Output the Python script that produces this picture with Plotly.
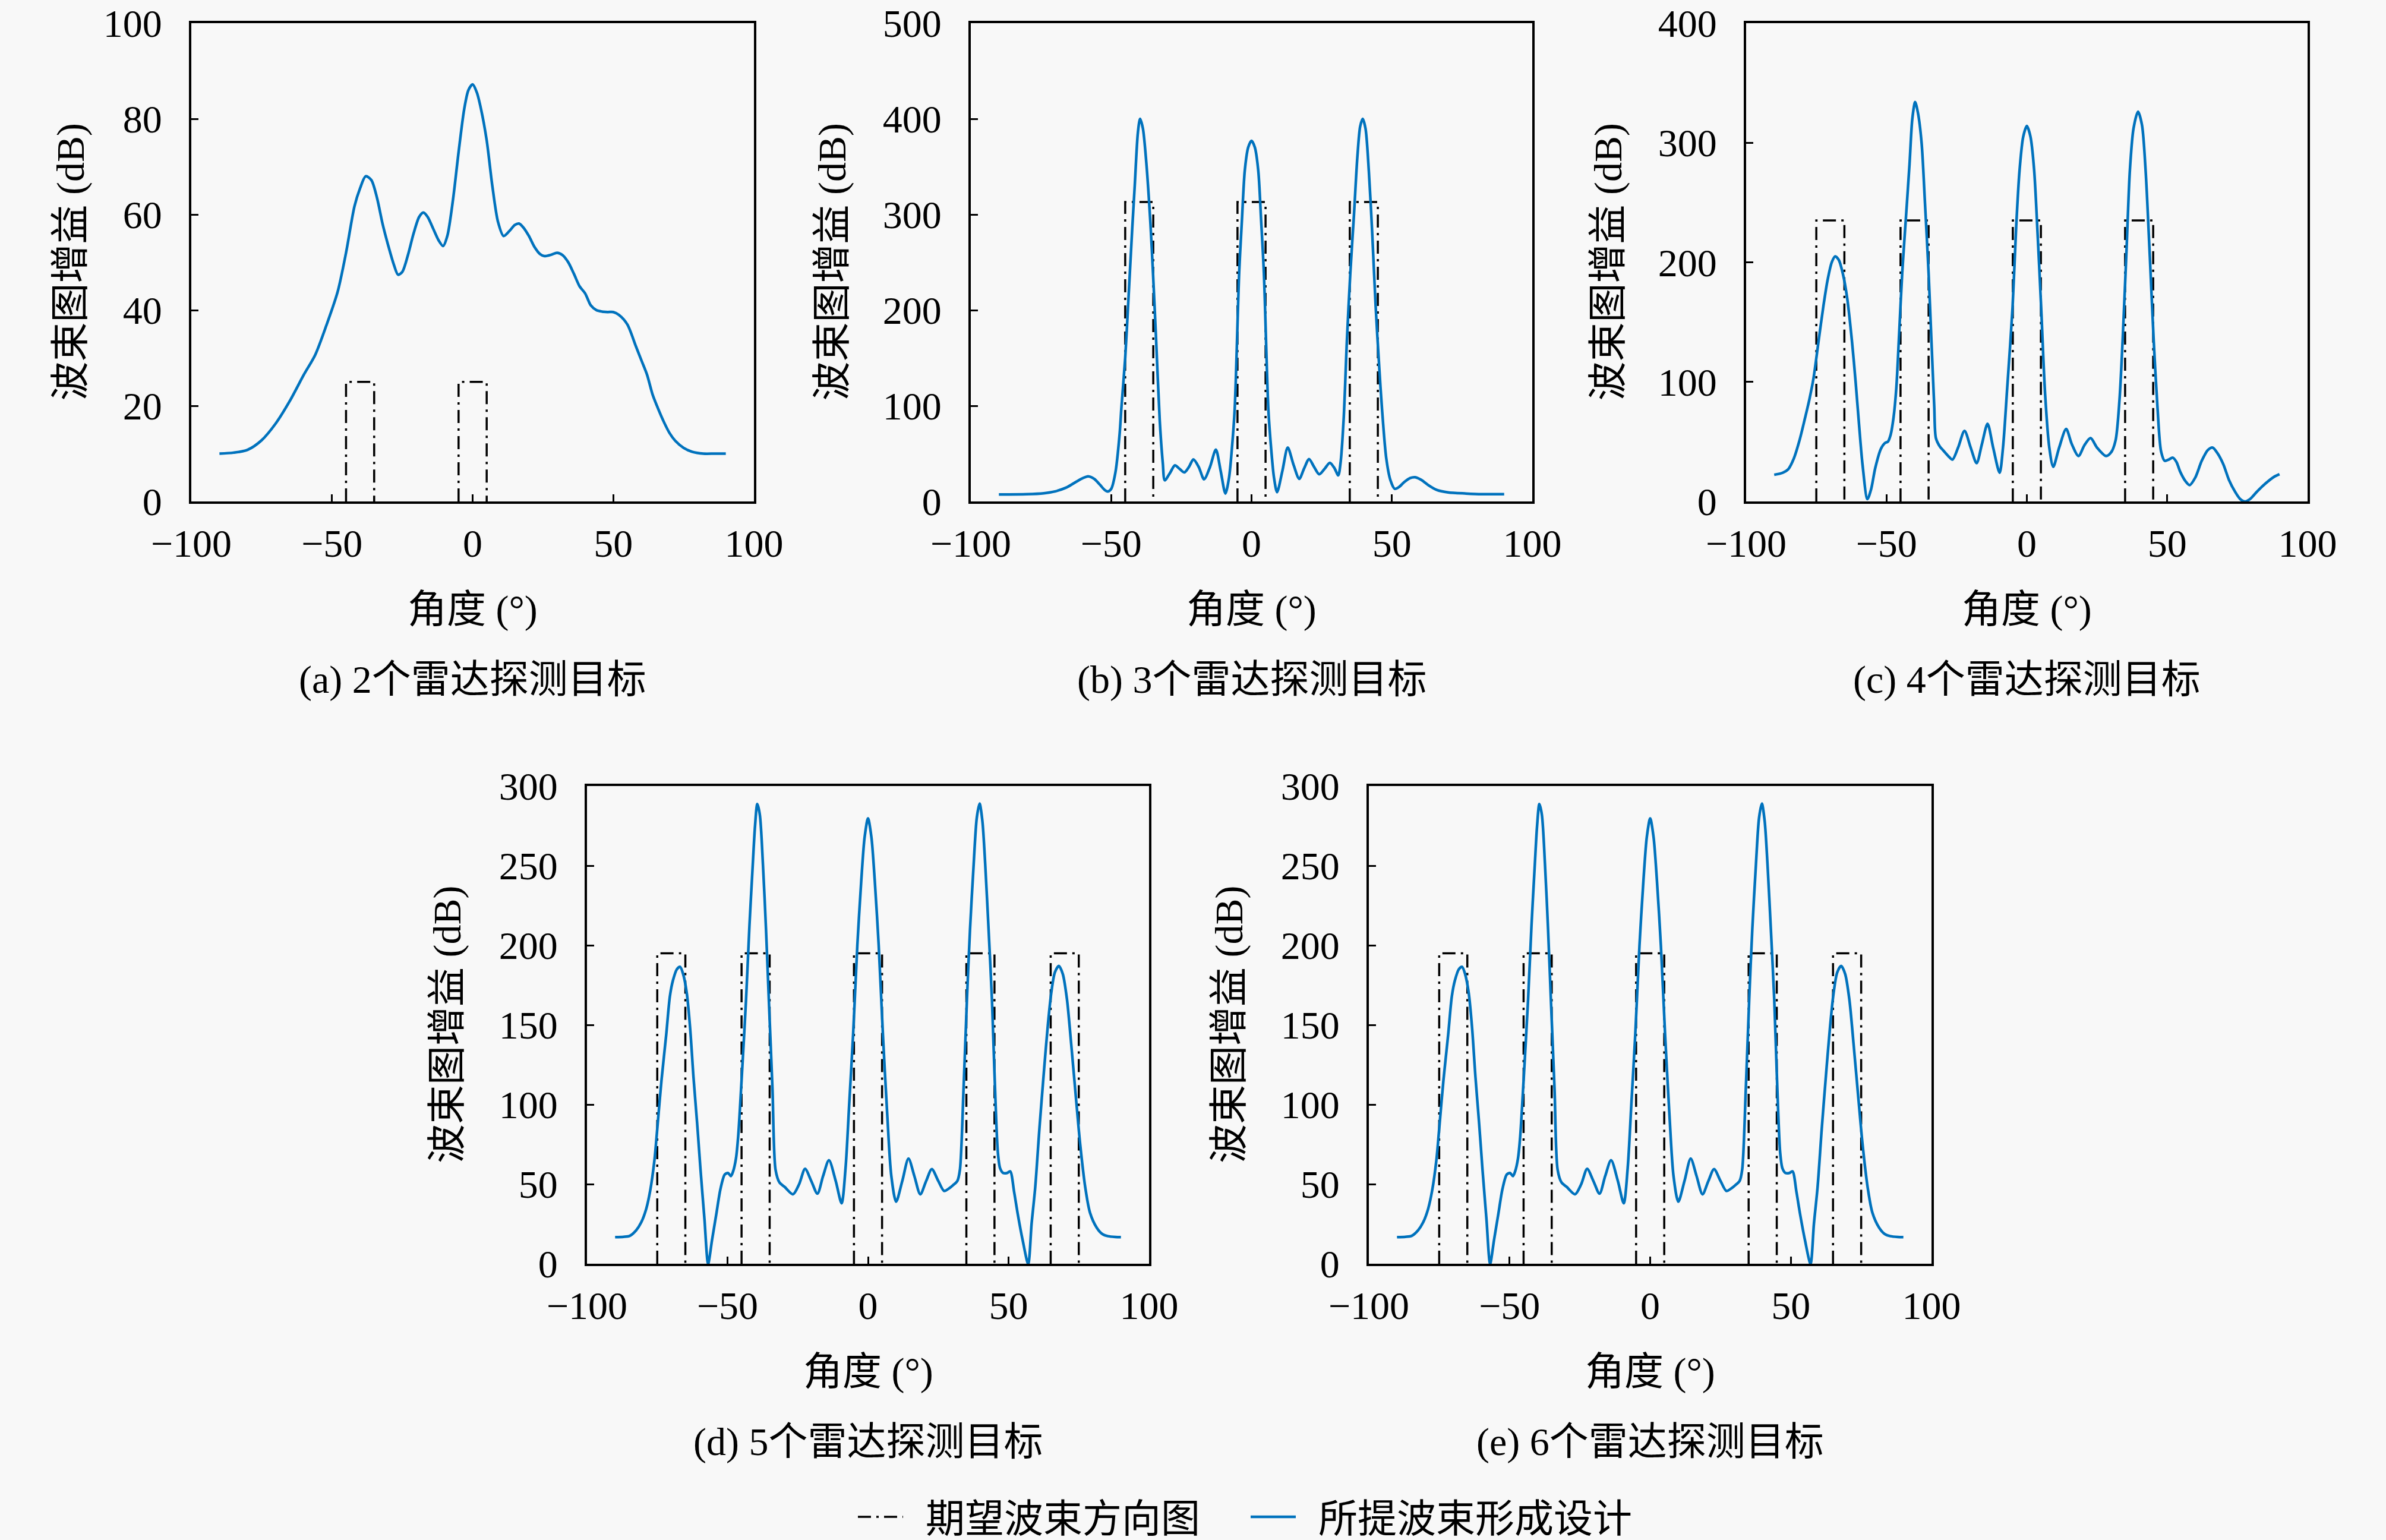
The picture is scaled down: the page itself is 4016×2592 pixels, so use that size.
import plotly.graph_objects as go

# ---------------- data ----------------
x_ticks = [-100, -50, 0, 50, 100]

# (a) 2 targets
a_angle = [-90, -85, -80, -75, -70, -65, -60, -56, -52, -48, -45, -42, -40, -38, -36, -34, -32, -30,
           -28, -26.5, -25, -23, -21, -19, -17.5, -16, -14, -12, -10.5, -9, -7, -5, -3, -1.5, 0,
           1.5, 3, 5, 7, 9, 11, 13, 15, 16.5, 18, 20, 22, 24, 25.5, 28, 30, 32, 34, 36, 38, 40, 42,
           44, 46, 48, 50, 52, 55, 58, 60, 62, 64, 66, 68, 70, 72, 75, 78, 82, 86, 90]
a_gain = [10, 10.2, 10.8, 12.8, 16.3, 21, 26.5, 30.6, 36.8, 43.8, 52, 61.7, 65.5, 68, 67.2, 63.5, 58, 53.5,
          49.5, 47.4, 48, 51.5, 56, 59.5, 60.4, 59.5, 57, 54.5, 53.4, 55.5, 63, 73, 82, 86, 87.2,
          85.5, 82, 75.5, 66, 58.5, 55.5, 56.5, 57.8, 58.1, 57.3, 55.5, 53.2, 51.7, 51.3, 51.6, 52, 51.5, 50, 47.6, 45, 43.5, 41,
          40, 39.7, 39.6, 39.6, 39, 37, 32.5, 29.5, 26.5, 22.3, 19.3, 16.6, 14.3, 12.7, 11.2, 10.4, 10, 10, 10]
a_lo = [-45, -5]
a_hi = [-35, 5]
a_level = 25

# (b) 3 targets
b_angle = [-90, -80, -74, -70, -66, -62.5, -60, -58.2, -56, -54, -52.3, -51.2, -50, -48.5, -47, -46.4, -45,
           -44, -42.5, -41.6, -40.5, -39.7, -38.7, -37.5, -36, -35.1, -34, -32.7, -31.6, -30.9, -29,
           -27.3, -25.6, -23.9, -22.3, -20.7, -18.8, -16.9, -14.8, -12.7, -11, -9.3, -8, -7, -6, -4.4,
           -3.4, -2.4, -1.2, 0, 1.2, 2.4, 3.4, 4.4, 6, 7, 8, 9.1, 11, 12.9, 15, 17, 18.8, 20.5, 22.3,
           24.1, 26, 27.9, 29.5, 30.9, 31.7, 32.8, 34, 35.2, 36.5, 37.7, 38.7, 39.6, 40.6, 41.8, 43,
           44.2, 45.5, 46.5, 48, 49.5, 51, 52.5, 54.5, 56.5, 58.3, 60.5, 63, 66, 70, 76.4, 82, 90]
b_gain = [7.3, 7.6, 8.6, 10.5, 14.5, 20.5, 24.5, 26.3, 23.5, 17.5, 12, 10.4, 13, 30, 70, 96, 150,
          203, 285, 330, 385, 400, 390, 355, 290, 239, 170, 85, 40, 22.1, 30,
          37.7, 34, 30.4, 36, 43.9, 36, 23.2, 36, 54.2, 32, 8.3, 25, 55, 96, 239,
          295, 346, 370, 377, 370, 346, 295, 239, 96, 55, 25, 9.7, 32, 56.3, 38, 23.6, 35, 44.3, 36,
          28.4, 34, 40.4, 35, 27.3, 40, 85, 170, 239, 300, 360, 392, 400, 390, 345, 280,
          205, 140, 96, 45, 22, 13.2, 15, 20.5, 24.5, 25.3, 22.5, 17, 12, 9.5, 8.3, 7.6, 7.6]
b_lo = [-45, -5, 35]
b_hi = [-35, 5, 45]
b_level = 313

# (c) 4 targets
c_angle = [-90, -87, -85, -83, -81, -79, -77.5, -76, -74.2, -72.5, -71, -69.5, -68.3, -67, -65.5, -64,
           -62.3, -61, -59.7, -58.5, -56.8, -55.5, -54, -52, -50.5, -49.5, -48.5, -47.5, -46.5, -45.5,
           -44.4, -43, -41.8, -40.8, -39.8, -38.8, -37.5, -36.3, -35, -34, -33, -32.4, -31, -29.9,
           -28, -26.5, -24.5, -22.2, -20, -17.9, -16, -14, -12, -9.7, -8.5, -7, -5.1, -3.8, -2.6,
           -1.3, 0, 1.3, 2.6, 3.8, 5.1, 6.5, 8, 9.4, 11.5, 14, 16, 18.4, 20.5, 22.7, 25, 28.2, 30,
           31.6, 33, 34.1, 35.5, 36.7, 38, 39.6, 41, 42.3, 43.8, 45.2, 46.5, 47.8, 49.1, 50.5, 52,
           53.3, 54.6, 56.5, 58, 60, 62.3, 64.5, 66.2, 68, 70, 72, 74.2, 76, 77.6, 79.5, 81.9, 85,
           88, 90]
c_gain = [22.3, 24, 27, 36, 51, 70, 85, 103, 134, 163, 185, 200, 205, 202, 190, 170,
          134, 100, 62, 30, 2, 10, 28, 44, 49, 50, 56, 70, 95, 140,
          191, 240, 282, 320, 334, 325, 300, 250, 191, 135, 80, 53, 46, 43,
          38, 35, 45, 59, 45, 32, 48, 65, 45, 24, 45, 95, 162, 230, 277,
          305, 314, 305, 277, 225, 162, 90, 45, 29, 45, 60.6, 48, 38, 47, 53, 45, 38, 41,
          51, 85, 134, 210, 277, 312, 326, 315, 277, 205, 134, 80, 42, 34, 35, 36.6,
          33, 25, 17, 13.7, 20, 34, 43, 45, 40, 31, 18, 8, 2, 0, 2, 8, 15,
          20.5, 22.8]
c_lo = [-75, -45, -5, 35]
c_hi = [-65, -35, 5, 45]
c_level = 235

# (d) 5 targets
d_angle = [-90, -87, -84.8, -82.5, -80.7, -79, -77.5, -76, -75, -73.5, -71.8, -70.5, -69.4, -68, -66.9,
           -65.8, -64.5, -63.3, -62.1, -60.8, -59.6, -58.2, -56.9, -55.5, -54, -52.5, -51, -49.8,
           -48.8, -48, -47, -46.2, -45, -43.4, -42.2, -41, -40.2, -39.4, -38.5, -37.4, -36.3, -35.3,
           -34, -32.9, -31.5, -29.7, -26.7, -24.5, -22.4, -20.2, -18, -16, -13.9, -11.5, -9.4, -8,
           -6.7, -5.3, -3.8, -2.4, -1.2, 0, 1.2, 2.4, 3.8, 5.3, 6.8, 8.3, 10, 12.2, 14.4, 16.5, 18.6,
           20.7, 22.7, 25, 27.1, 29, 30.3, 31.8, 32.7, 34, 35.2, 36.3, 37.6, 38.7, 39.7, 40.7, 41.7,
           42.9, 44.1, 45, 46.2, 47, 48.1, 49.5, 50.6, 52, 53.3, 55, 57, 58.2, 59.5, 61, 62.7, 64,
           65.2, 66.5, 67.9, 69.3, 70.8, 72.3, 74.1, 75.5, 77.3, 79, 81.4, 83.5, 85.4, 88, 90]
d_gain = [16.7, 16.9, 17.5, 21, 26, 34, 46, 65, 84.6, 115, 144, 168, 178, 185, 186.5,
          182, 170, 148, 117, 88, 59, 28, 0, 15, 31, 47, 56, 57,
          55, 58, 66, 80, 115, 166, 212, 251, 275, 288.7, 282, 251, 210, 166,
          110, 59, 51, 48.3, 43.6, 50, 59.6, 52, 44, 55, 65, 52, 38, 60,
          100, 144, 200, 240.6, 268, 279.7, 268, 240.6, 200, 144, 95, 55, 39, 52, 66, 55, 43.6,
          52, 59.4, 52, 45.7, 47.5, 49.4, 52, 59, 110, 166, 210, 251, 280, 289, 278, 251,
          210, 166, 120, 70, 60, 57, 57, 58, 45, 31, 15, 0, 25, 48, 85, 123, 150,
          170, 183, 187, 182, 166, 138, 102, 75, 48, 32, 22.6, 18.5, 17.3, 16.8, 16.7]
d_lo = [-75, -45, -5, 35, 65]
d_hi = [-65, -35, 5, 45, 75]
d_level = 195

# (e) same pattern as (d) in the reference
e_angle = list(d_angle)
e_gain = list(d_gain)
e_lo = [-75, -45, -5, 35, 65]
e_hi = [-65, -35, 5, 45, 75]
e_level = 195

captions = ["(a) 2个雷达探测目标", "(b) 3个雷达探测目标", "(c) 4个雷达探测目标",
            "(d) 5个雷达探测目标", "(e) 6个雷达探测目标"]
y_ranges = [[0, 100], [0, 500], [0, 400], [0, 300], [0, 300]]
y_ticks = [[0, 20, 40, 60, 80, 100], [0, 100, 200, 300, 400, 500], [0, 100, 200, 300, 400],
           [0, 50, 100, 150, 200, 250, 300], [0, 50, 100, 150, 200, 250, 300]]
legend_names = ["期望波束方向图", "所提波束形成设计"]
x_title = "角度 (°)"
y_title = "波束图增益 (dB)"

# ---------------- layout geometry (pixels in the 4016x2592 window) ----------------
W, H = 4016, 2592
FONT = "Liberation Serif, Noto Sans CJK SC, serif"
BLUE = "#0072BD"
BG = "#f8f8f8"
FS = 66
PAD = "\u00a0\u00a0"         # gap between legend symbol and its text

# left, right, top, bottom, y-title centre x
boxes = [(322, 1269, 39, 844, 118),
         (1634, 2579, 39, 844, 1400),
         (2939, 3884, 39, 844, 2706),
         (988, 1934, 1323, 2127, 753),
         (2304, 3251, 1323, 2127, 2069)]

series = [(a_angle, a_gain, a_lo, a_hi, a_level),
          (b_angle, b_gain, b_lo, b_hi, b_level),
          (c_angle, c_gain, c_lo, c_hi, c_level),
          (d_angle, d_gain, d_lo, d_hi, d_level),
          (e_angle, e_gain, e_lo, e_hi, e_level)]


def px(x):
    return x / W


def py(y):
    return 1 - y / H


fig = go.Figure()
annotations = []
for i, ((l, r, t, b, ytx), (ang, gain, lo, hi, lev)) in enumerate(zip(boxes, series)):
    n = "" if i == 0 else str(i + 1)
    xa, ya = "x" + n, "y" + n
    # desired pattern rectangles built from target intervals
    rx, ry = [], []
    for a0, a1 in zip(lo, hi):
        rx += [a0, a0, a1, a1, None]
        ry += [0, lev, lev, 0, None]
    fig.add_trace(go.Scatter(x=rx, y=ry, mode="lines", xaxis=xa, yaxis=ya,
                             name=PAD + legend_names[0], showlegend=(i == 0),
                             line=dict(color="black", width=3.5, dash="22px,9px,4px,9px")))
    fig.add_trace(go.Scatter(x=ang, y=gain, mode="lines", xaxis=xa, yaxis=ya,
                             name=PAD + legend_names[1], showlegend=(i == 0),
                             line=dict(color=BLUE, width=4.5, shape="spline", smoothing=0.8)))
    common = dict(showline=True, linecolor="black", linewidth=4, mirror=True,
                  ticks="inside", ticklen=12, tickwidth=3, tickcolor="black",
                  showgrid=False, zeroline=False, automargin=False,
                  ticklabeloverflow="allow",
                  tickfont=dict(family=FONT, size=FS, color="black"))
    fig.update_layout(**{
        ("xaxis" + n): dict(domain=[px(l), px(r)], range=[-100, 100], tickvals=x_ticks,
                            anchor=ya, ticklabelstandoff=10, **common),
        ("yaxis" + n): dict(domain=[py(b), py(t)], range=y_ranges[i], tickvals=y_ticks[i],
                            anchor=xa, ticklabelstandoff=32, **common),
    })
    cx = (l + r) / 2
    annotations.append(dict(text=x_title, x=px(cx), y=py(b + 182), xref="paper", yref="paper",
                            showarrow=False, xanchor="center", yanchor="middle",
                            font=dict(family=FONT, size=FS, color="black")))
    annotations.append(dict(text=captions[i], x=px(cx), y=py(b + 300), xref="paper", yref="paper",
                            showarrow=False, xanchor="center", yanchor="middle",
                            font=dict(family=FONT, size=FS, color="black")))
    annotations.append(dict(text=y_title, x=px(ytx), y=py((t + b) / 2), xref="paper", yref="paper",
                            showarrow=False, xanchor="center", yanchor="middle", textangle=-90,
                            font=dict(family=FONT, size=FS, color="black")))

fig.update_layout(
    width=W, height=H,
    margin=dict(l=0, r=0, t=0, b=0, pad=0, autoexpand=False),
    paper_bgcolor=BG, plot_bgcolor=BG,
    annotations=annotations,
    showlegend=True,
    legend=dict(orientation="h", x=px(2100), xanchor="center", y=py(2553), yanchor="middle",
                font=dict(family=FONT, size=FS, color="black"), bgcolor="rgba(0,0,0,0)",
                itemwidth=76, entrywidth=570, tracegroupgap=0),
)

fig.write_html("out.html",
               config={"displayModeBar": False},
               post_script="document.body.style.margin='0';document.body.style.background='%s';" % BG)
